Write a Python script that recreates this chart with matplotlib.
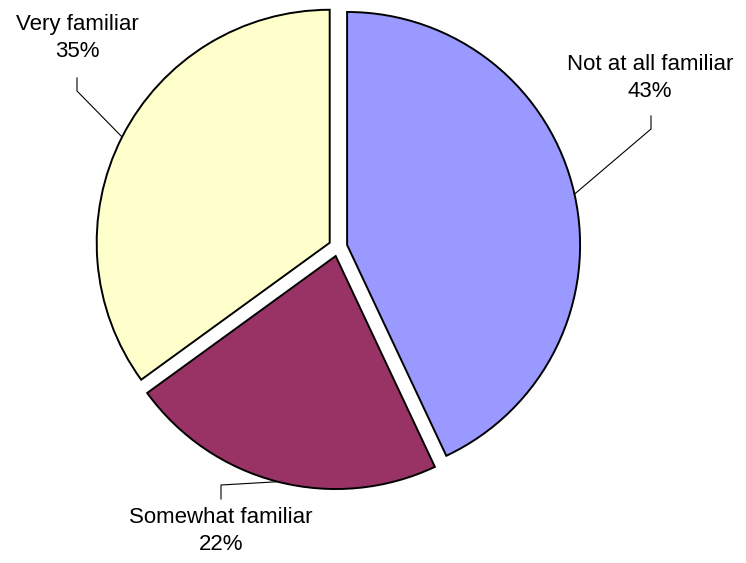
import numpy as np
import matplotlib.pyplot as plt

labels = ["Not at all familiar", "Somewhat familiar", "Very familiar"]
percents = [43, 22, 35]
colors = ["#9999FF", "#993366", "#FFFFCC"]

W, H = 746, 563
plt.rcParams['font.family'] = ['Liberation Sans', 'DejaVu Sans']

fig = plt.figure(figsize=(W / 100, H / 100), dpi=100)
ax = fig.add_axes([0, 0, 1, 1])

cx, cy, r = 338, H - 247, 233
# explode is in data units, so scale it with the radius
wedges, _ = ax.pie(percents, colors=colors, startangle=90, counterclock=False,
                   explode=[0.04 * r] * 3, center=(cx, cy), radius=r, frame=True,
                   wedgeprops=dict(edgecolor='black', linewidth=1.4))
ax.set_xlim(0, W)
ax.set_ylim(0, H)
ax.set_aspect('equal')
ax.axis('off')

# text centre and leader elbow (top/bottom of the short vertical tick), image coords
label_pos = [(650, 78), (221, 531), (77, 38)]
elbows = [((651, 116), (651, 129)), ((221, 499), (221, 485)), ((77, 78), (77, 91))]

for w, lab, p, (xt, yt), (e1, e2) in zip(wedges, labels, percents, label_pos, elbows):
    mid = np.deg2rad((w.theta1 + w.theta2) / 2)
    px = w.center[0] + w.r * np.cos(mid)
    py = w.center[1] + w.r * np.sin(mid)
    ax.plot([e1[0], e2[0], px], [H - e1[1], H - e2[1], py], color='black', lw=0.8)
    ax.text(xt, H - yt, f"{lab}\n{p}%", ha='center', va='center', fontsize=16,
            linespacing=1.4)

fig.savefig("out.png", dpi=100)
